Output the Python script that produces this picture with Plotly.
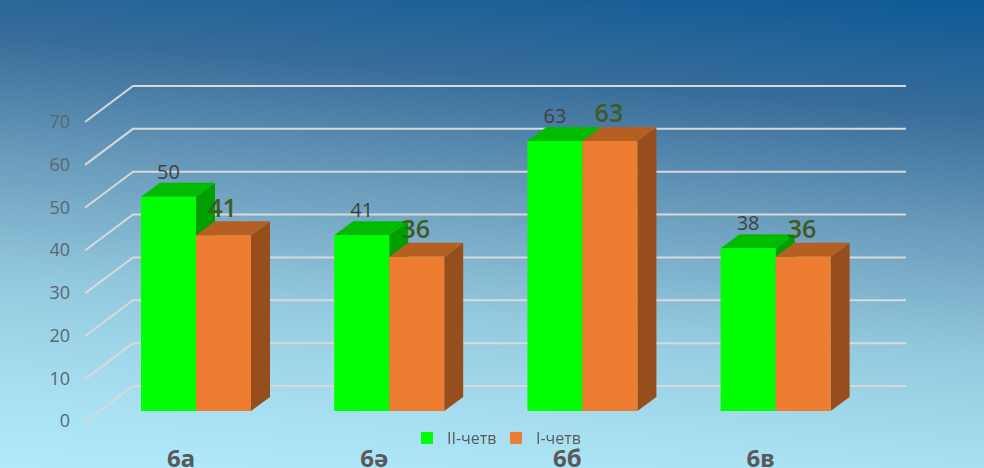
import base64
import plotly.graph_objects as go

# ---- data ----
categories = ["6а", "6ә", "6б", "6в"]
series_names = ["II-четв", "I-четв"]
q2_values = [50, 41, 63, 38]
q1_values = [41, 36, 63, 36]
tick_values = [0, 10, 20, 30, 40, 50, 60, 70]

# ---- scale (pixels per data unit) and 3-D projection ----
W, H = 984, 468
PX_PER_CAT = 193.2
PX_PER_VAL = 4.286
X0_PX = 196       # first group centre
Y0_PX = 411       # bar base
BAR_W = 55 / PX_PER_CAT
DX = 19 / PX_PER_CAT   # depth in x
DY = 14 / PX_PER_VAL   # depth in y


def xr(x0):
    return [-x0 / PX_PER_CAT, (W - x0) / PX_PER_CAT]


def yr(y0, s=PX_PER_VAL):
    return [-(H - y0) / s, y0 / s]


svg = f'''<svg xmlns="http://www.w3.org/2000/svg" width="{W}" height="{H}">
<defs><linearGradient id="g" gradientUnits="userSpaceOnUse" x1="984" y1="0" x2="941" y2="543">
<stop offset="0" stop-color="#0d5a96"/><stop offset="0.21" stop-color="#386d9a"/>
<stop offset="0.43" stop-color="#6a9cbc"/><stop offset="0.65" stop-color="#93c9de"/>
<stop offset="0.86" stop-color="#a8e0f2"/><stop offset="1" stop-color="#b0eafb"/>
</linearGradient></defs><rect width="{W}" height="{H}" fill="url(#g)"/></svg>'''
bg = "data:image/svg+xml;base64," + base64.b64encode(svg.encode()).decode()

fig = go.Figure()

# back-wall gridlines
wall_left = (85 - X0_PX) / PX_PER_CAT
wall_back = (133 - X0_PX) / PX_PER_CAT
wall_right = (906 - X0_PX) / PX_PER_CAT
front_off = (Y0_PX - 422) / PX_PER_VAL
back_off = (Y0_PX - 386) / PX_PER_VAL
for v in tick_values:
    fig.add_trace(go.Scatter(
        x=[wall_left, wall_back, wall_right],
        y=[v + front_off, v + back_off, v + back_off],
        mode="lines", line=dict(color="#d9d9d9", width=2),
        showlegend=False, hoverinfo="skip"))


def faces(values, x_left, top_col, side_col):
    for i, v in enumerate(values):
        l = i + x_left
        r = l + BAR_W
        fig.add_trace(go.Scatter(
            x=[r, r + DX, r + DX, r, r], y=[0, DY, v + DY, v, 0],
            mode="lines", fill="toself", fillcolor=side_col,
            line=dict(width=0, color=side_col), showlegend=False, hoverinfo="skip"))
        fig.add_trace(go.Scatter(
            x=[l, l + DX, r + DX, r, l], y=[v, v + DY, v + DY, v, v],
            mode="lines", fill="toself", fillcolor=top_col,
            line=dict(width=0, color=top_col), showlegend=False, hoverinfo="skip"))


faces(q2_values, -BAR_W, "#00bb00", "#009f00")
faces(q1_values, 0, "#b55f22", "#964f1c")

# front faces on the overlaying subplot
xs = list(range(len(categories)))
fig.add_trace(go.Bar(x=xs, y=q2_values, name=series_names[0], width=BAR_W, offset=-BAR_W,
                     marker=dict(color="#00ff00", line=dict(width=0)),
                     xaxis="x2", yaxis="y2"))
fig.add_trace(go.Bar(x=xs, y=q1_values, name=series_names[1], width=BAR_W, offset=0,
                     marker=dict(color="#ed7d31", line=dict(width=0)),
                     xaxis="x2", yaxis="y2"))

# data labels
fig.add_trace(go.Scatter(
    x=[i - BAR_W / 2 for i in xs], y=[v + 23 / PX_PER_VAL for v in q2_values],
    text=[str(v) for v in q2_values], mode="text", textposition="middle center",
    textfont=dict(size=20, color="#404040", family="Open Sans", weight=500),
    showlegend=False, hoverinfo="skip", xaxis="x2", yaxis="y2"))
fig.add_trace(go.Scatter(
    x=[i + BAR_W / 2 - 1 / PX_PER_CAT for i in xs], y=[v + 25 / PX_PER_VAL for v in q1_values],
    text=[str(v) for v in q1_values], mode="text", textposition="middle center",
    textfont=dict(size=25, color="#3f5a22", family="Open Sans", weight=600),
    showlegend=False, hoverinfo="skip", xaxis="x2", yaxis="y2"))

# carrier trace for the tick-label axes
fig.add_trace(go.Scatter(x=xs, y=tick_values[:len(xs)], mode="markers", opacity=0,
                         showlegend=False, hoverinfo="skip", xaxis="x3", yaxis="y3"))

hidden = dict(visible=False, fixedrange=True)
fig.update_layout(
    width=W, height=H,
    margin=dict(l=0, r=0, t=0, b=0, autoexpand=False),
    paper_bgcolor="rgba(0,0,0,0)", plot_bgcolor="rgba(0,0,0,0)",
    font=dict(family="Noto Sans", color="#595959"),
    barmode="overlay",
    images=[dict(source=bg, xref="paper", yref="paper", x=0, y=1, sizex=1, sizey=1,
                 xanchor="left", yanchor="top", sizing="stretch", layer="below")],
    xaxis=dict(range=xr(X0_PX), **hidden),
    yaxis=dict(range=yr(Y0_PX), **hidden),
    xaxis2=dict(range=xr(X0_PX), overlaying="x", anchor="y2", **hidden),
    yaxis2=dict(range=yr(Y0_PX), overlaying="y", anchor="x2", **hidden),
    xaxis3=dict(range=xr(181), overlaying="x", anchor="free", position=26 / H,
                tickmode="array", tickvals=xs, ticktext=[f"<b>{c}</b>" for c in categories],
                showgrid=False, zeroline=False, showline=False, ticks="", fixedrange=True,
                tickfont=dict(size=24, color="#595959", family="Noto Sans"),
                ticklabelstandoff=0),
    yaxis3=dict(range=yr(421, 4.271), overlaying="y", anchor="free", position=70 / W,
                side="left", tickmode="array", tickvals=tick_values, showgrid=False,
                zeroline=False, showline=False, ticks="", fixedrange=True,
                tickfont=dict(size=18, color="#5b6670", family="Open Sans")),
    legend=dict(orientation="h", x=496 / W, xanchor="center", y=(468 - 438) / H,
                yanchor="middle", bgcolor="rgba(0,0,0,0)", traceorder="normal",
                font=dict(size=16, color="#595959", family="Open Sans"),
                itemwidth=30, entrywidth=44, entrywidthmode="pixels"),
)

fig.write_html("out.html", config=dict(displayModeBar=False),
               post_script="document.body.style.margin='0';document.body.style.overflow='hidden';")
